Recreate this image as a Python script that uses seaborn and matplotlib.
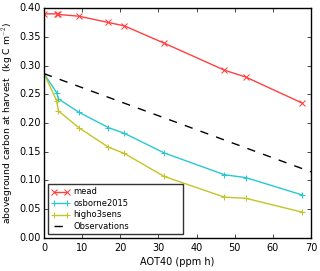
import matplotlib
matplotlib.use("Agg")
import matplotlib.pyplot as plt
import seaborn as sns

# =========================
# DATA
# =========================

aot40 = [0, 3.3, 3.8, 9.1, 16.9, 21.1, 31.5, 47.3, 52.9, 67.6]

mead = [0.390, 0.390, 0.389, 0.386, 0.375, 0.369, 0.339, 0.292, 0.280, 0.235]
osborne2015 = [0.286, 0.253, 0.242, 0.219, 0.192, 0.182, 0.148, 0.110, 0.105, 0.075]
higho3sens = [0.286, 0.239, 0.221, 0.192, 0.158, 0.147, 0.107, 0.071, 0.069, 0.045]

obs_x = [0, 70]
obs_y = [0.286, 0.115]

# =========================
# PLOT
# =========================

plt.style.use("classic")
plt.rcParams["font.family"] = ["DejaVu Sans"]

fig, ax = plt.subplots(figsize=(3.2, 2.71), dpi=100)
fig.patch.set_facecolor("white")

sns.lineplot(x=aot40, y=mead, ax=ax, color="#ff4040", marker="x",
             markersize=4.5, markeredgecolor="#ff4040", label="mead", lw=1)
sns.lineplot(x=aot40, y=osborne2015, ax=ax, color="#28c8d0", marker="+",
             markersize=5, markeredgecolor="#28c8d0", label="osborne2015", lw=1)
sns.lineplot(x=aot40, y=higho3sens, ax=ax, color="#c4c428", marker="+",
             markersize=5, markeredgecolor="#c4c428", label="higho3sens", lw=1)
sns.lineplot(x=obs_x, y=obs_y, ax=ax, color="black", linestyle="--",
             label="Observations", lw=1)

ax.set_xlim(0, 70)
ax.set_ylim(0, 0.40)
ax.set_xticks(range(0, 71, 10))
ax.set_yticks([0.0, 0.05, 0.10, 0.15, 0.20, 0.25, 0.30, 0.35, 0.40])
ax.tick_params(labelsize=7, length=3)
ax.tick_params(axis="y", pad=2.5)
ax.tick_params(axis="x", pad=3.5)

ax.set_xlabel("AOT40 (ppm h)", fontsize=7, labelpad=3)
ax.set_ylabel("aboveground carbon at harvest  (kg C m$^{-2}$)", fontsize=6.7,
              labelpad=2)

leg = ax.legend(loc="lower left", fontsize=6, numpoints=2, fancybox=False,
                handlelength=2.2, handletextpad=0.4, borderpad=0.4,
                labelspacing=0.3,
                bbox_to_anchor=(0.015, 0.016, 0.505, 0.219), mode="expand",
                borderaxespad=0)
leg.get_frame().set_edgecolor("#333333")

fig.subplots_adjust(left=0.1375, right=0.972, top=0.97, bottom=0.122)
fig.savefig("out.png", dpi=100, facecolor="white")
